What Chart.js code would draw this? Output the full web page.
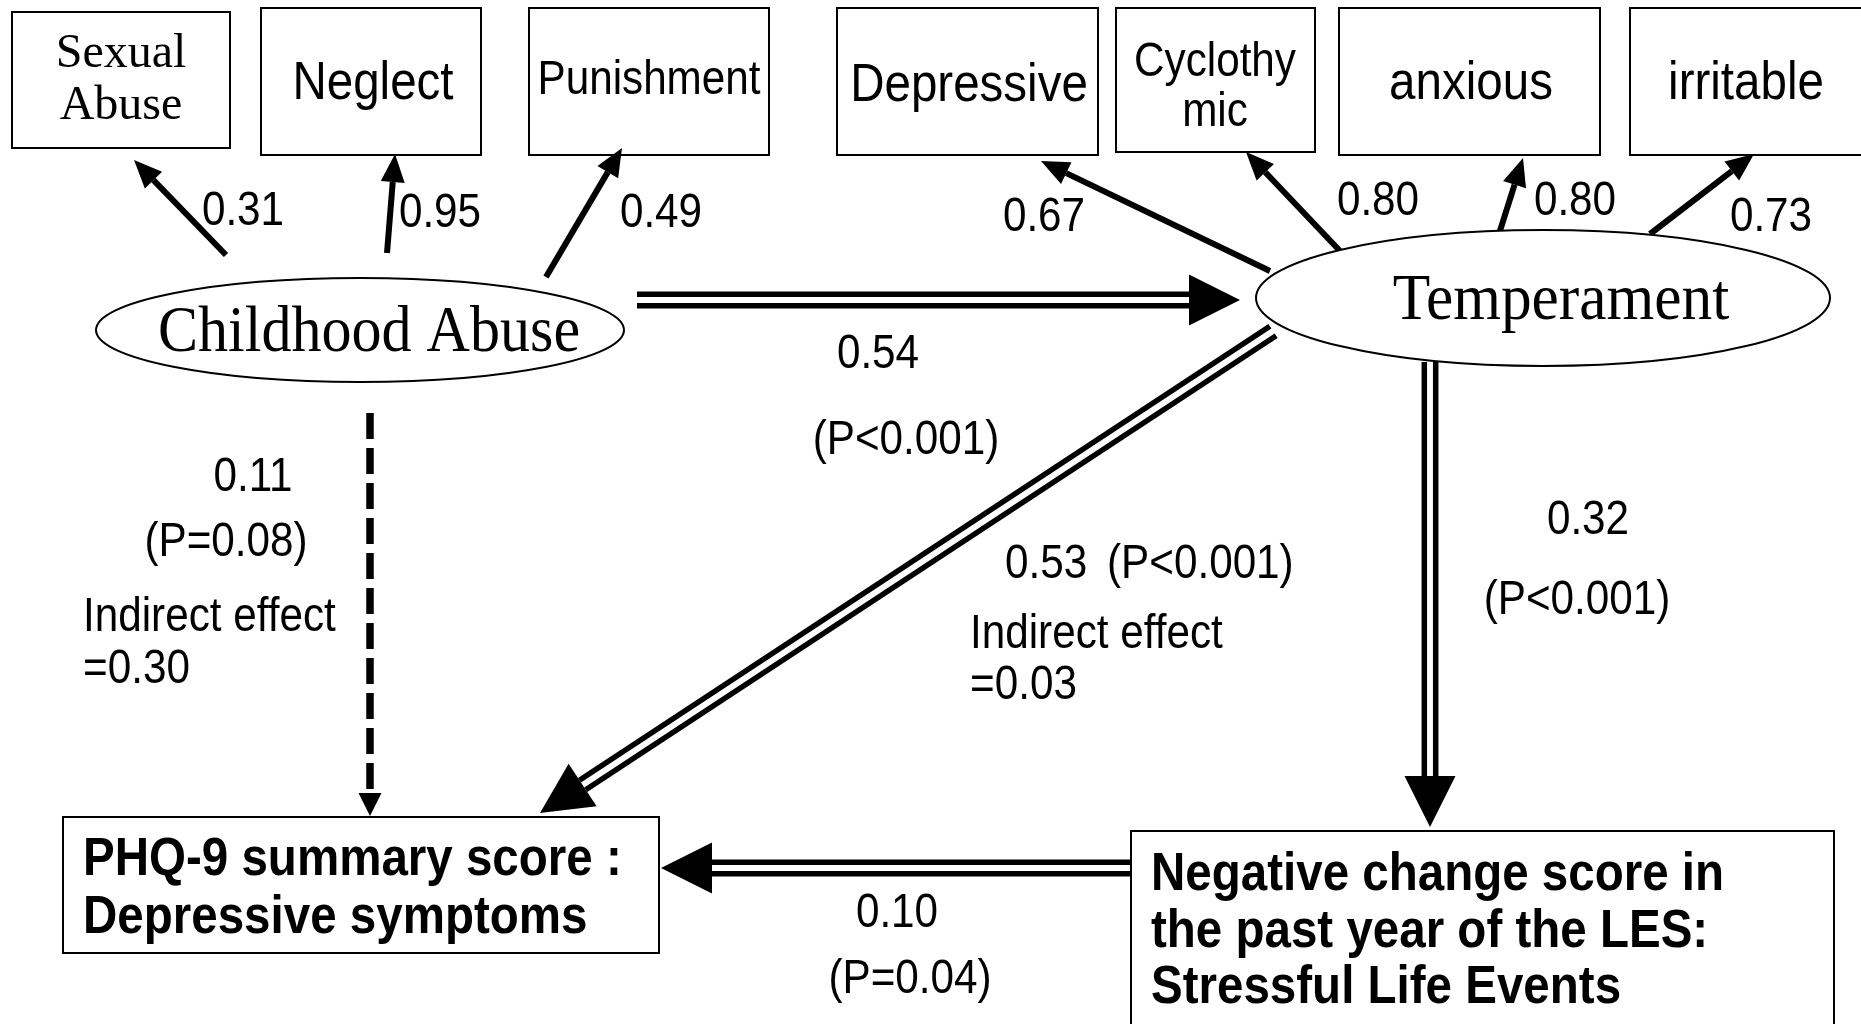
<!DOCTYPE html>
<html>
<head>
<meta charset="utf-8">
<script src="https://cdn.jsdelivr.net/npm/chart.js@4.4.1/dist/chart.umd.min.js"></script>
<style>
  html, body { margin: 0; padding: 0; background: #fff; }
  canvas { display: block; }
</style>
</head>
<body>
<canvas id="pathChart" width="1861" height="1024"></canvas>
<script>
// measurement model: indicators and loadings
const abuseItems = ['Sexual\nAbuse', 'Neglect', 'Punishment'];
const abuseLoadings = [0.31, 0.95, 0.49];
const temperItems = ['Depressive', 'Cyclothy\nmic', 'anxious', 'irritable'];
const temperLoadings = [0.67, 0.80, 0.80, 0.73];

// latent variables and outcomes
const latentNames = ['Childhood Abuse', 'Temperament'];
const outcomeNames = ['PHQ-9 summary score :\nDepressive symptoms',
  'Negative change score in\nthe past year of the LES:\nStressful Life Events'];

// structural paths: abuse->temp, abuse->phq, temp->phq, temp->les, les->phq
const pathCoefs = [0.54, 0.11, 0.53, 0.32, 0.10];
const pathP = ['P<0.001', 'P=0.08', 'P<0.001', 'P<0.001', 'P=0.04'];
const indirectEffects = [0.30, 0.03];

// layout in diagram units (0..1861 x 0..1024)
const SANS = '"Liberation Sans", Arial, sans-serif';
const SERIF = '"Liberation Serif", "Times New Roman", serif';
const layout = {
  abuseBoxes: [[12, 12, 230, 148], [261, 8, 481, 155], [529, 8, 769, 155]],
  abuseText: [[121, [51, 103], 48, SERIF, 1], [373, [81], 54, SANS, 0.88], [649, [77], 48, SANS, 0.88]],
  abuseArrows: [[226, 255, 134, 160], [387, 253, 395, 154], [546, 277, 622, 148]],
  abuseLoadPos: [[243, 208], [440, 210], [661, 210]],
  temperBoxes: [[837, 8, 1098, 155], [1116, 8, 1315, 152], [1339, 8, 1600, 155], [1630, 8, 1875, 155]],
  temperText: [[969, [83], 54, SANS, 0.88], [1215, [59, 109], 48, SANS, 0.88], [1471, [81], 54, SANS, 0.88], [1746, [81], 54, SANS, 0.88]],
  temperArrows: [[1270, 271, 1041, 161], [1341, 252, 1246, 152], [1499, 234, 1523, 158], [1650, 234, 1754, 154]],
  temperLoadPos: [[1044, 214], [1378, 198], [1575, 198], [1771, 214]],
  // cx, cy, rx, ry, text x, text scaleX
  ellipses: [[360, 330, 264, 52, 369, 0.91], [1543, 298, 287, 68, 1561, 0.93]],
  outBoxes: [[63, 817, 659, 953], [1131, 831, 1834, 1040]],
  outText: [[83, [857, 915]], [1151, [872, 929, 985]]],
  paths: [
    { from: [637, 300], to: [1240, 300], kind: 'double' },
    { from: [370, 413], to: [370, 816], kind: 'dashed' },
    { from: [1273, 331], to: [540, 813], kind: 'double' },
    { from: [1430, 362], to: [1430, 827], kind: 'double' },
    { from: [1131, 868], to: [661, 868], kind: 'double' },
  ],
};

const fmt = v => v.toFixed(2);

const diagramPlugin = {
  id: 'pathDiagram',
  afterDraw(chart) {
    const ctx = chart.ctx;
    const xs = chart.scales.x, ys = chart.scales.y;
    const px = v => xs.getPixelForValue(v);
    const py = v => ys.getPixelForValue(v);

    function text(str, x, y, size, family, sx, align, weight) {
      ctx.save();
      ctx.translate(px(x), py(y + 3.5));
      ctx.scale(sx, 1);
      ctx.font = (weight || 'normal') + ' ' + size + 'px ' + family;
      ctx.textAlign = align || 'center';
      ctx.textBaseline = 'middle';
      ctx.fillStyle = '#000';
      ctx.fillText(str, 0, 0);
      ctx.restore();
    }
    const label = (str, x, y, align) => text(str, x, y, 48, SANS, 0.88, align);

    function box(b) {
      ctx.save();
      ctx.strokeStyle = '#000';
      ctx.lineWidth = 2;
      ctx.strokeRect(px(b[0]), py(b[1]), px(b[2]) - px(b[0]), py(b[3]) - py(b[1]));
      ctx.restore();
    }

    function head(x1, y1, x2, y2, len, half) {
      const ax = px(x1), ay = py(y1), bx = px(x2), by = py(y2);
      const d = Math.hypot(bx - ax, by - ay);
      const ux = (bx - ax) / d, uy = (by - ay) / d;
      const cx = bx - ux * len, cy = by - uy * len;
      ctx.beginPath();
      ctx.moveTo(bx, by);
      ctx.lineTo(cx - uy * half, cy + ux * half);
      ctx.lineTo(cx + uy * half, cy - ux * half);
      ctx.closePath();
      ctx.fillStyle = '#000';
      ctx.fill();
      return [cx, cy, ux, uy];
    }

    function singleArrow(a) {
      ctx.save();
      const [cx, cy] = head(a[0], a[1], a[2], a[3], 28, 12);
      ctx.beginPath();
      ctx.moveTo(px(a[0]), py(a[1]));
      ctx.lineTo(cx, cy);
      ctx.strokeStyle = '#000';
      ctx.lineWidth = 6;
      ctx.stroke();
      ctx.restore();
    }

    function doubleArrow(p) {
      ctx.save();
      const [cx, cy, ux, uy] = head(p.from[0], p.from[1], p.to[0], p.to[1], 51, 25.5);
      const sx = px(p.from[0]), sy = py(p.from[1]);
      ctx.strokeStyle = '#000';
      ctx.lineWidth = 5.5;
      [-5.7, 5.7].forEach(o => {
        ctx.beginPath();
        ctx.moveTo(sx - uy * o, sy + ux * o);
        ctx.lineTo(cx - uy * o, cy + ux * o);
        ctx.stroke();
      });
      ctx.restore();
    }

    function dashedArrow(p) {
      ctx.save();
      const [cx, cy] = head(p.from[0], p.from[1], p.to[0], p.to[1], 23, 11.5);
      ctx.beginPath();
      ctx.setLineDash([26, 9]);
      ctx.moveTo(px(p.from[0]), py(p.from[1]));
      ctx.lineTo(cx, cy);
      ctx.strokeStyle = '#000';
      ctx.lineWidth = 7.5;
      ctx.stroke();
      ctx.restore();
    }

    // indicator boxes, loadings
    [[abuseItems, abuseLoadings, 'abuse'], [temperItems, temperLoadings, 'temper']].forEach(([items, loads, k]) => {
      items.forEach((name, i) => {
        box(layout[k + 'Boxes'][i]);
        const t = layout[k + 'Text'][i];
        name.split('\n').forEach((line, j) => text(line, t[0], t[1][j], t[2], t[3], t[4]));
        singleArrow(layout[k + 'Arrows'][i]);
        const lp = layout[k + 'LoadPos'][i];
        label(fmt(loads[i]), lp[0], lp[1]);
      });
    });

    // latent ellipses
    latentNames.forEach((name, i) => {
      const e = layout.ellipses[i];
      ctx.save();
      ctx.beginPath();
      ctx.ellipse(px(e[0]), py(e[1]), px(e[0] + e[2]) - px(e[0]), Math.abs(py(e[1] + e[3]) - py(e[1])), 0, 0, Math.PI * 2);
      ctx.fillStyle = '#fff';
      ctx.fill();
      ctx.strokeStyle = '#000';
      ctx.lineWidth = 2;
      ctx.stroke();
      ctx.restore();
      text(name, e[4], e[1], 66, SERIF, e[5]);
    });

    // outcome boxes
    outcomeNames.forEach((name, i) => {
      box(layout.outBoxes[i]);
      const t = layout.outText[i];
      name.split('\n').forEach((line, j) => text(line, t[0], t[1][j], 54, SANS, 0.88, 'left', 'bold'));
    });

    // structural paths
    layout.paths.forEach(p => (p.kind === 'dashed' ? dashedArrow(p) : doubleArrow(p)));

    // path labels
    label(fmt(pathCoefs[0]), 878, 351);
    label('(' + pathP[0] + ')', 906, 437);
    label(fmt(pathCoefs[1]), 253, 474);
    label('(' + pathP[1] + ')', 226, 539);
    label('Indirect effect', 83, 614, 'left');
    label('=' + fmt(indirectEffects[0]), 83, 666, 'left');
    label(fmt(pathCoefs[2]), 1005, 561, 'left');
    label('(' + pathP[2] + ')', 1107, 561, 'left');
    label('Indirect effect', 970, 631, 'left');
    label('=' + fmt(indirectEffects[1]), 970, 682, 'left');
    label(fmt(pathCoefs[3]), 1588, 517);
    label('(' + pathP[3] + ')', 1577, 597);
    label(fmt(pathCoefs[4]), 897, 910);
    label('(' + pathP[4] + ')', 910, 976);
  },
};

new Chart(document.getElementById('pathChart'), {
  type: 'scatter',
  data: { datasets: [{ data: [] }] },
  options: {
    responsive: false,
    animation: false,
    devicePixelRatio: 1,
    events: [],
    layout: { padding: 0 },
    plugins: { legend: { display: false }, tooltip: { enabled: false } },
    scales: {
      x: { type: 'linear', min: 0, max: 1861, display: false },
      y: { type: 'linear', min: 0, max: 1024, reverse: true, display: false },
    },
  },
  plugins: [diagramPlugin],
});
</script>
</body>
</html>
